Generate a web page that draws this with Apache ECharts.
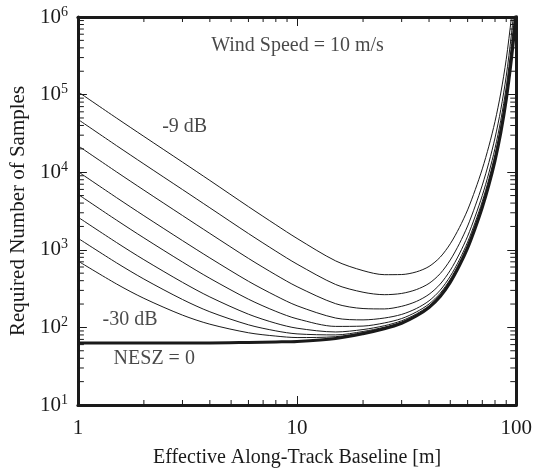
<!DOCTYPE html>
<html><head><meta charset="utf-8">
<script src="https://cdn.jsdelivr.net/npm/echarts@6/dist/echarts.min.js"></script>
<style>html,body{margin:0;padding:0;background:#fff}#c{width:535px;height:473px}</style>
</head><body><div id="c"></div>
<script>
// Effective along-track baseline [m]
const baselines = [1,1.5,2,3,4,6,8,10,15,20,25,30,35,40,45,50,55,60,65,70,75,80,85,90,95,100];
// Required number of samples, one array per NESZ curve
const nesz9  = [109000,49900,28930,13494,7825,3598,2102,1401,719,539,478,480,519,610,805,1195,1931,3269,5944,11035,21638,45010,104768,284580,977200,3950000];
const nesz12 = [48000,22012,12770,5974,3479,1620,961,654,357,284,264,274,307,369,494,739,1197,2027,3680,6815,13328,27650,64032,172805,586880,2356000];
const nesz15 = [21987,10099,5873,2766,1625,775,475,335,202,175,173,187,216,267,362,544,884,1496,2713,5016,9785,20244,46656,125205,420280,1674000];
const nesz18 = [10206,4707,2751,1314,786,393,255,190,132,125,132,147,175,220,302,456,742,1257,2276,4200,8180,16884,38784,103615,344960,1366000];
const nesz21 = [5198,2414,1424,696,429,231,161,129,103,104,114,130,158,200,276,418,682,1155,2091,3855,7500,15462,35430,94410,312870,1234500];
const nesz24 = [2640,1242,746,381,247,148,113,97.6,87.3,93.8,105,121.7,149,190,263,399,651,1102,1996,3678,7151,14734,33722,89718,296490,1167500];
const nesz27 = [1411,680,420,229,159,108,90.2,82.5,80.0,88.6,100.7,117.5,144.7,185.3,256.9,390,636,1077,1950,3593,6984,14384,32900,87470,288630,1135300];
const nesz30 = [718,363,237,144,110,85.3,77.3,74.0,75.9,85.7,98.3,115.2,142.3,182.6,253.3,384.9,627.9,1063,1924,3545,6889,14186,32438,86200,284190,1117200];
const neszZero = [63,63,63,63,63,64,65,66,72,83,96,113,140,180,250,380,620,1050,1900,3500,6800,14000,32000,85000,280000,1100000];
const thinCurves = [nesz9, nesz12, nesz15, nesz18, nesz21, nesz24, nesz27, nesz30];
// Minor tick values
const xMinorTicks = [2,3,4,5,6,7,8,9,20,30,40,50,60,70,80,90];
const yMinorTicks = [20,30,40,50,60,70,80,90,200,300,400,500,600,700,800,900,2000,3000,4000,5000,6000,7000,8000,9000,20000,30000,40000,50000,60000,70000,80000,90000,200000,300000,400000,500000,600000,700000,800000,900000];
// Annotations: [x, y, text]
const annotations = [[10.05, 420000, 'Wind Speed = 10 m/s'], [3.07, 38000, '-9 dB'], [1.73, 125, '-30 dB'], [2.23, 39, 'NESZ = 0']];

const INK = '#1a1a1a';
const FONT = '"Liberation Serif", "Times New Roman", serif';
const chart = echarts.init(document.getElementById('c'), null, {renderer: 'canvas'});

function pairs(arr) { return baselines.map((b, i) => [b, arr[i]]); }

const series = [];
thinCurves.forEach((arr, i) => {
  series.push({type: 'line', data: pairs(arr), showSymbol: false, smooth: 0.3, clip: true,
    lineStyle: {color: INK, width: 1}, z: 3, silent: true});
});
series.push({type: 'line', data: pairs(neszZero), showSymbol: false, smooth: 0.3, clip: true,
  lineStyle: {color: INK, width: 3}, z: 4, silent: true});

series.push({type: 'custom', data: xMinorTicks.map(v => [v, 10]), clip: false, silent: true, z: 5,
  renderItem(params, api) {
    const p = api.coord([api.value(0), 10]);
    const cs = params.coordSys;
    const st = {stroke: INK, lineWidth: 1};
    return {type: 'group', children: [
      {type: 'line', shape: {x1: p[0], y1: cs.y + cs.height, x2: p[0], y2: cs.y + cs.height - 5}, style: st},
      {type: 'line', shape: {x1: p[0], y1: cs.y, x2: p[0], y2: cs.y + 5}, style: st}
    ]};
  }});
series.push({type: 'custom', data: yMinorTicks.map(v => [1, v]), clip: false, silent: true, z: 5,
  renderItem(params, api) {
    const p = api.coord([1, api.value(1)]);
    const cs = params.coordSys;
    const st = {stroke: INK, lineWidth: 1};
    return {type: 'group', children: [
      {type: 'line', shape: {x1: cs.x, y1: p[1], x2: cs.x + 6, y2: p[1]}, style: st},
      {type: 'line', shape: {x1: cs.x + cs.width, y1: p[1], x2: cs.x + cs.width - 6, y2: p[1]}, style: st}
    ]};
  }});
series.push({type: 'scatter', data: annotations.map(a => ({value: [a[0], a[1]], name: a[2]})),
  symbolSize: 0, silent: true, z: 6,
  label: {show: true, position: 'inside', formatter: p => p.name, color: INK,
    fontFamily: FONT, fontSize: 20}});

const axisCommon = {
  type: 'log', logBase: 10,
  splitLine: {show: false},
  axisLine: {show: true, lineStyle: {color: INK, width: 3}},
  axisTick: {show: true, inside: true, length: 9, lineStyle: {color: INK, width: 1}},
  minorTick: {show: false}
};

chart.setOption({
  animation: false,
  backgroundColor: '#fff',
  grid: {left: 72, top: 17, right: 16, bottom: 59, containLabel: false},
  xAxis: [
    Object.assign({}, axisCommon, {position: 'bottom', min: 1, max: 100,
      name: 'Effective Along-Track Baseline [m]', nameLocation: 'middle', nameGap: 43,
      nameTextStyle: {color: INK, fontFamily: FONT, fontSize: 20},
      axisLabel: {color: INK, fontFamily: FONT, fontSize: 21, margin: 13,
        showMinLabel: true, showMaxLabel: true}}),
    Object.assign({}, axisCommon, {position: 'top', min: 1, max: 100, axisLabel: {show: false}})
  ],
  yAxis: [
    Object.assign({}, axisCommon, {position: 'left', min: 10, max: 1000000,
      name: 'Required Number of Samples', nameLocation: 'middle', nameGap: 44,
      nameTextStyle: {color: INK, fontFamily: FONT, fontSize: 21},
      axisLabel: {color: INK, fontFamily: FONT, margin: 10,
        formatter: v => '{b|10}{s|' + Math.round(Math.log10(v)) + '}',
        rich: {b: {fontFamily: FONT, fontSize: 21, color: INK, lineHeight: 24},
               s: {fontFamily: FONT, fontSize: 14, color: INK, verticalAlign: 'top', lineHeight: 14}}}}),
    Object.assign({}, axisCommon, {position: 'right', min: 10, max: 1000000, axisLabel: {show: false}})
  ],
  series: series
});
</script></body></html>
